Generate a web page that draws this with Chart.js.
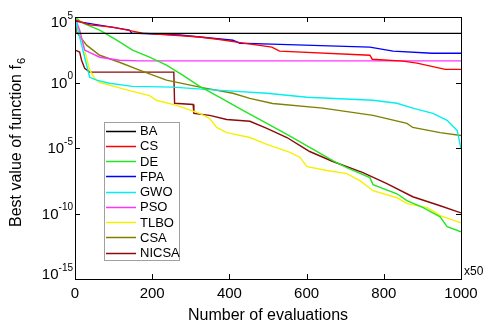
<!DOCTYPE html>
<html>
<head>
<meta charset="utf-8">
<script src="https://cdn.jsdelivr.net/npm/chart.js@4/dist/chart.umd.min.js"></script>
<style>
  html, body { margin: 0; padding: 0; background: #fff; }
  #wrap { width: 494px; height: 326px; }
</style>
</head>
<body>
<div id="wrap"><canvas id="c" width="494" height="326"></canvas></div>
<script>
// 評価回数（x50）
const xTicks = [0, 200, 400, 600, 800, 1000];
const yTickValues = [1e5, 1, 1e-5, 1e-10, 1e-15];
const yTickExponents = ['5', '0', '-5', '-10', '-15'];

// 各アルゴリズムの収束曲線 (x, best value)
const baX = [0, 1000];
const baY = [5.6e3, 5.6e3];

const csX = [0, 38, 97, 175, 323, 370, 419, 510, 530, 764, 770, 850, 886, 959, 1000];
const csY = [5.9e4, 2.5e4, 1.7e4, 5.9e3, 3.0e3, 2.0e3, 1.2e3, 5.0e2, 2.5e2, 1.2e2, 6.0e1, 4.3e1, 3.0e1, 1.0e1, 1.0e1];

const deX = [0, 19, 64, 108, 149, 193, 237, 279, 323, 375, 435, 497, 549, 608, 668, 704, 764, 772, 834, 860, 902, 946, 964, 1000];
const deY = [1e5, 3.5e4, 1.0e4, 1.7e3, 3.0e2, 8.5e1, 2.1e1, 3.6, 5.1e-1, 7.4e-2, 7.4e-3, 7.6e-4, 1.1e-4, 1.1e-5, 1.1e-6, 3.2e-7, 5.5e-8, 1.6e-8, 3.2e-9, 9.5e-10, 2.8e-10, 5.6e-11, 1.0e-11, 4.0e-12];

const fpaX = [0, 12, 141, 147, 271, 409, 427, 510, 764, 824, 925, 1000];
const fpaY = [4.9e4, 4.2e4, 1.0e4, 5.9e3, 4.2e3, 1.7e3, 1.0e3, 8.5e2, 5.0e2, 2.5e2, 1.7e2, 1.7e2];

const gwoX = [0, 12, 25, 38, 56, 89, 149, 253, 367, 497, 601, 772, 834, 875, 927, 964, 990, 1000];
const gwoY = [1e5, 3.0e3, 8.5e1, 2.5, 1.5, 8.7e-1, 5.1e-1, 4.4e-1, 2.6e-1, 1.5e-1, 7.4e-2, 4.4e-2, 2.6e-2, 1.1e-2, 4.4e-3, 1.3e-3, 2.2e-4, 9.1e-6];

const psoX = [0, 12, 25, 64, 115, 167, 1000];
const psoY = [8e4, 1.0e4, 3.0e2, 8.5e1, 5.0e1, 4.5e1, 4.5e1];

const tlboX = [0, 12, 25, 38, 51, 64, 108, 149, 193, 211, 263, 323, 349, 367, 393, 453, 497, 557, 583, 601, 653, 704, 738, 772, 834, 860, 912, 927, 946, 1000];
const tlboY = [1e5, 1e4, 3.0e2, 8.7, 2.1, 1.0, 4.4e-1, 2.1e-1, 1.0e-1, 4.4e-2, 1.8e-2, 4.4e-3, 1.8e-3, 3.7e-4, 1.5e-4, 6.3e-5, 1.9e-5, 4.6e-6, 1.9e-6, 3.8e-7, 1.9e-7, 1.1e-7, 3.2e-8, 5.5e-9, 1.6e-9, 5.6e-10, 2.8e-10, 1.6e-10, 6.8e-11, 1.9e-11];

const csaX = [0, 4, 30, 64, 115, 167, 237, 323, 409, 453, 512, 642, 772, 860, 875, 946, 1000];
const csaY = [1e5, 7.1e3, 7.1e2, 1.2e2, 3.5e1, 8.7, 1.5, 4.4e-1, 1.5e-1, 6.2e-2, 2.5e-2, 1.1e-2, 3.1e-3, 7.6e-4, 3.7e-4, 1.5e-4, 9.1e-5];

const nicsaX = [0, 12, 17, 25, 38, 256, 258, 306, 308, 349, 393, 453, 497, 549, 583, 608, 668, 746, 808, 875, 946, 1000];
const nicsaY = [3.0e2, 2.1e2, 5.0e1, 1.2e1, 6.2, 6.2, 2.6e-2, 2.1e-2, 4.4e-3, 3.1e-3, 1.5e-3, 1.1e-3, 3.1e-4, 6.3e-5, 1.5e-5, 5.4e-6, 9.3e-7, 1.3e-7, 1.9e-8, 1.9e-9, 3.9e-10, 1.1e-10];

const FONT = "'Liberation Sans', Arial, sans-serif";

function pts(xs, ys) {
  return xs.map((x, i) => ({ x: x, y: ys[i] }));
}

function series(label, xs, ys, color) {
  return {
    label: label,
    data: pts(xs, ys),
    borderColor: color,
    backgroundColor: color,
    borderWidth: 1.4,
    pointRadius: 0,
    tension: 0,
    fill: false
  };
}

// 軸の枠・内向き目盛・指数ラベル・凡例を描く
const decorPlugin = {
  id: 'decor',
  afterDraw(chart) {
    const ctx = chart.ctx;
    const a = chart.chartArea;
    const xs = chart.scales.x;
    const ys = chart.scales.y;
    ctx.save();
    ctx.strokeStyle = '#000';
    ctx.lineWidth = 1;
    ctx.strokeRect(a.left + 0.5, a.top + 0.5, a.right - a.left, a.bottom - a.top);

    ctx.beginPath();
    xTicks.forEach(v => {
      const px = Math.round(xs.getPixelForValue(v)) + 0.5;
      ctx.moveTo(px, a.bottom); ctx.lineTo(px, a.bottom - 5);
      ctx.moveTo(px, a.top); ctx.lineTo(px, a.top + 5);
    });
    yTickValues.forEach(v => {
      const py = Math.round(ys.getPixelForValue(v)) + 0.5;
      ctx.moveTo(a.left, py); ctx.lineTo(a.left + 5, py);
      ctx.moveTo(a.right, py); ctx.lineTo(a.right - 5, py);
    });
    ctx.stroke();

    // y 目盛ラベル 10^n
    ctx.fillStyle = '#000';
    ctx.textBaseline = 'middle';
    yTickValues.forEach((v, i) => {
      let py = ys.getPixelForValue(v);
      if (i === 0) py += 5;
      if (i === yTickValues.length - 1) py -= 5;
      ctx.font = '10px ' + FONT;
      const ew = ctx.measureText(yTickExponents[i]).width;
      ctx.textAlign = 'right';
      ctx.fillText(yTickExponents[i], 73, py - 6);
      ctx.font = '15px ' + FONT;
      ctx.fillText('10', 73 - ew, py + 1);
    });

    // y 軸タイトル（下付き 6）
    ctx.save();
    ctx.translate(17, 143);
    ctx.rotate(-Math.PI / 2);
    ctx.font = '16px ' + FONT;
    const main = 'Best value of function f';
    const mw = ctx.measureText(main).width;
    ctx.font = '11px ' + FONT;
    const sw = ctx.measureText('6').width;
    const start = -(mw + sw) / 2;
    ctx.textAlign = 'left';
    ctx.font = '16px ' + FONT;
    ctx.fillText(main, start, 0);
    ctx.font = '11px ' + FONT;
    ctx.fillText('6', start + mw + 1, 5);
    ctx.restore();

    // x50
    ctx.font = '12px ' + FONT;
    ctx.textAlign = 'left';
    ctx.fillText('x50', a.right + 3, a.bottom - 7);

    // 凡例
    const lx = 104, ly = 122, lw = 75, lh = 138;
    ctx.fillStyle = '#fff';
    ctx.fillRect(lx, ly, lw, lh);
    ctx.strokeStyle = '#a0a0a0';
    ctx.strokeRect(lx + 0.5, ly + 0.5, lw, lh);
    ctx.font = '13px ' + FONT;
    chart.data.datasets.forEach((ds, i) => {
      const y = 130.5 + i * 15.25;
      ctx.strokeStyle = ds.borderColor;
      ctx.lineWidth = 1.5;
      ctx.beginPath();
      ctx.moveTo(106, Math.round(y) + 0.5);
      ctx.lineTo(136, Math.round(y) + 0.5);
      ctx.stroke();
      ctx.fillStyle = '#000';
      ctx.fillText(ds.label, 140, y + 1);
    });
    ctx.restore();
  }
};

new Chart(document.getElementById('c'), {
  type: 'line',
  data: {
    datasets: [
      series('BA', baX, baY, '#000000'),
      series('CS', csX, csY, '#ff0000'),
      series('DE', deX, deY, '#22e622'),
      series('FPA', fpaX, fpaY, '#0000ff'),
      series('GWO', gwoX, gwoY, '#00f0f0'),
      series('PSO', psoX, psoY, '#ff33ff'),
      series('TLBO', tlboX, tlboY, '#f5f000'),
      series('CSA', csaX, csaY, '#808000'),
      series('NICSA', nicsaX, nicsaY, '#8b0a0a')
    ]
  },
  options: {
    responsive: false,
    animation: false,
    layout: { padding: { left: 0, top: 17, right: 33, bottom: 0 } },
    plugins: {
      legend: { display: false },
      tooltip: { enabled: false }
    },
    scales: {
      x: {
        type: 'linear',
        min: 0,
        max: 1000,
        grid: { display: false, drawTicks: false },
        border: { display: false },
        afterBuildTicks: (scale) => { scale.ticks = xTicks.map(v => ({ value: v })); },
        afterFit: (scale) => { scale.height = 47; },
        ticks: {
          color: '#000',
          padding: 6,
          maxRotation: 0,
          font: { family: FONT, size: 15 },
          callback: (value) => String(value)
        },
        title: {
          display: true,
          text: 'Number of evaluations',
          color: '#000',
          padding: { top: 2, bottom: 1 },
          font: { family: FONT, size: 16 }
        }
      },
      y: {
        type: 'logarithmic',
        min: 1e-15,
        max: 1e5,
        grid: { display: false, drawTicks: false },
        border: { display: false },
        afterBuildTicks: (scale) => { scale.ticks = yTickValues.map(v => ({ value: v })); },
        afterFit: (scale) => { scale.width = 75; },
        ticks: { display: false }
      }
    }
  },
  plugins: [decorPlugin]
});
</script>
</body>
</html>
